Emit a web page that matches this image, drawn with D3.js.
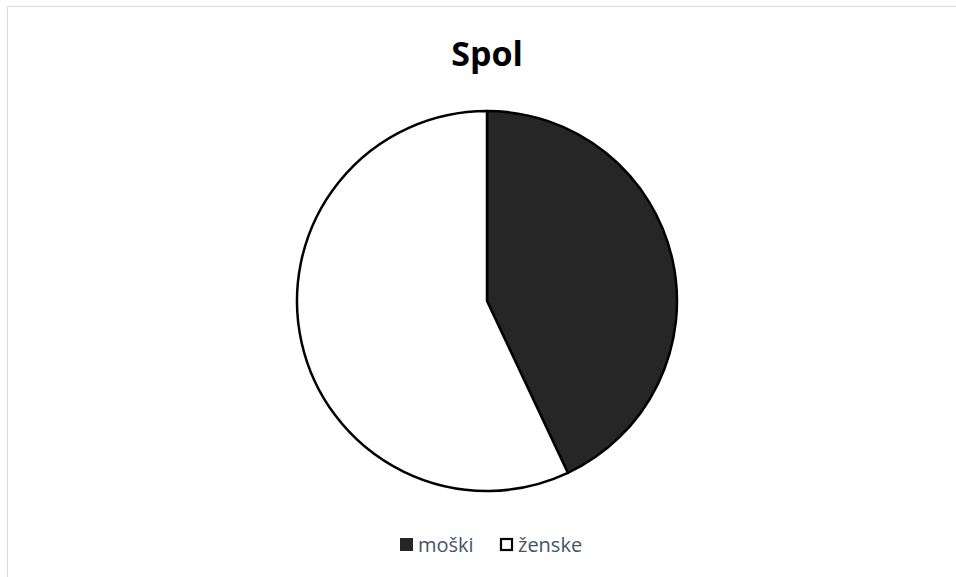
<!DOCTYPE html>
<html>
<head>
<meta charset="utf-8">
<script src="https://cdn.jsdelivr.net/npm/d3@7"></script>
<style>
  body { margin: 0; background: #fff; }
</style>
</head>
<body>
<div id="chart"></div>
<script>
"use strict"

const title = "Spol";
const categories = ["moški", "ženske"];
const values = [43, 57];
const fills = ["#262626", "#ffffff"];

const width = 956, height = 577;
const cx = 487, cy = 301, r = 190;

let svg = d3.select('#chart')
  .append('svg')
  .attr('width', width)
  .attr('height', height);

// Frame
svg.append('path')
  .attr('d', `M7.5,${height} L7.5,6.5 L${width},6.5`)
  .attr('fill', 'none')
  .attr('stroke', '#d9d9d9')
  .attr('stroke-width', 1);

// Title
svg.append('text')
  .attr('x', cx)
  .attr('y', 66)
  .attr('text-anchor', 'middle')
  .attr('style', 'font: bold 34px "Open Sans", sans-serif; fill: #000')
  .text(title);

// Pie
let pie = d3.pie().sort(null).value((d) => d.value);
let arc = d3.arc().innerRadius(0).outerRadius(r);
let data = categories.map((c, i) => ({name: c, value: values[i], fill: fills[i]}));

(svg
  .append('g')
    .attr('transform', `translate(${cx},${cy})`)
  .selectAll('path')
    .data(pie(data))
  .enter()
    .append('path')
      .attr('d', arc)
      .attr('fill', (d) => d.data.fill)
      .attr('stroke', '#000')
      .attr('stroke-width', 2.5)
      .attr('stroke-linejoin', 'round')
);

// Legend
let legend = svg.append('g').attr('transform', 'translate(0,545)');
let lx = [400, 500];
(legend
  .selectAll('rect')
    .data(data)
  .enter()
    .append('rect')
      .attr('x', (d, i) => i == 0 ? lx[i] : lx[i] + 1)
      .attr('y', (d, i) => i == 0 ? -7 : -6)
      .attr('width', (d, i) => i == 0 ? 13 : 11)
      .attr('height', (d, i) => i == 0 ? 13 : 11)
      .attr('fill', (d) => d.fill)
      .attr('stroke', '#000')
      .attr('stroke-width', (d, i) => i == 0 ? 0 : 2.2)
);
(legend
  .selectAll('text')
    .data(data)
  .enter()
    .append('text')
      .attr('x', (d, i) => lx[i] + 18)
      .attr('y', 7)
      .attr('style', 'font: 20px "Open Sans", sans-serif; fill: #44546a')
      .text((d) => d.name)
);
</script>
</body>
</html>
